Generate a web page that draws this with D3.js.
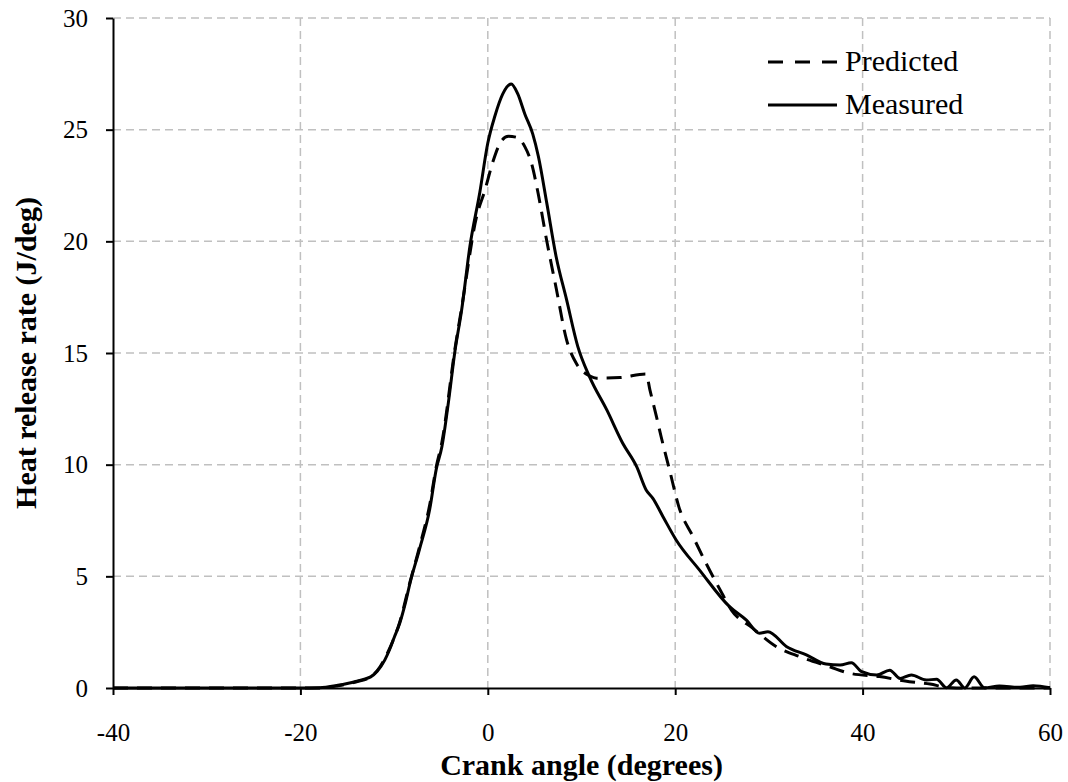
<!DOCTYPE html>
<html>
<head>
<meta charset="utf-8">
<script src="https://cdn.jsdelivr.net/npm/d3@7"></script>
<style>
  body { margin: 0; background: #fff; }
  svg text { font-family: "Liberation Serif", "Times New Roman", serif; fill: #000; }
</style>
</head>
<body>
<div id="chart"></div>
<script>
// crank angle (deg) / heat release rate (J/deg)
const measuredAngle = [-40, -30, -20, -18, -16, -15, -14, -13, -12.5, -11.8, -11, -10.5, -10, -9.4, -8.8, -8.3,
  -7.3, -6.2, -5.5, -4.9, -4.2, -3.5, -2.8, -1.9, -0.85, 0, 0.75, 1.6, 2.5, 3.2, 3.95, 4.8, 5.4, 6.3, 7.3,
  8.4, 9.6, 10.9, 12.7, 14.4, 15.9, 16.9, 17.6, 18.7, 20.1, 22.6, 25.8, 27.6, 29.0, 29.9, 31.9, 34.0, 36.1,
  37.6, 38.8, 39.9, 41.5, 42.9, 44.0, 45.2, 46.8, 47.9, 48.95, 50.0, 50.9, 51.9, 53.0, 54.6, 56.8, 58.2, 60];
const measuredRate = [0, 0, 0, 0.01, 0.12, 0.2, 0.3, 0.42, 0.5, 0.75, 1.25, 1.7, 2.25, 2.9, 3.8, 4.7,
  6.2, 8.0, 9.8, 10.8, 12.8, 15.1, 16.9, 19.8, 22.2, 24.4, 25.6, 26.6, 27.05, 26.6, 25.7, 24.8, 23.8, 21.7, 19.3,
  17.4, 15.3, 13.9, 12.45, 10.96, 9.9, 8.87, 8.5, 7.67, 6.63, 5.28, 3.64, 3.04, 2.45, 2.52, 1.85, 1.48, 1.07,
  1.03, 1.13, 0.73, 0.58, 0.8, 0.43, 0.58, 0.36, 0.39, 0.01, 0.36, 0, 0.5, 0.01, 0.09, 0.03, 0.1, 0.01];

const predictedAngle = [-40, -30, -18, -16, -14, -12.5, -11.5, -10.5, -9.4, -8.3, -7.3, -6.2, -5.5, -4.9,
  -3.5, -2.8, -1.2, -0.3, 0.57, 1.46, 2.2, 3.06, 3.95, 4.66, 5.37, 6.3, 7.3, 8.4, 9.5, 10.9, 11.6, 14.1,
  16.9, 17.3, 18.0, 18.5, 19.4, 20.4, 21.9, 23.3, 24.8, 26.0, 28.3, 30.8, 33.3, 36.5, 38.6, 41.8, 45.0,
  47.2, 49, 50, 55, 60];
const predictedRate = [0, 0, 0, 0.1, 0.28, 0.5, 0.95, 1.75, 2.95, 4.75, 6.3, 8.2, 9.9, 11,
  15.2, 17, 21.1, 22.3, 23.6, 24.5, 24.7, 24.66, 24.24, 23.5, 22.15, 20.0, 17.9, 15.6, 14.5, 13.97, 13.87, 13.9,
  14.06, 13.35, 12.15, 11.25, 9.76, 8.1, 6.78, 5.58, 4.39, 3.49, 2.67, 1.85, 1.4, 0.95, 0.66, 0.51, 0.28,
  0.18, 0.02, 0, 0, 0];

const xTicks = [-40, -20, 0, 20, 40, 60];
const yTicks = [0, 5, 10, 15, 20, 25, 30];

const W = 1068, H = 782;
const margin = { top: 18, right: 18, bottom: 94, left: 113 };
const width = W - margin.left - margin.right;
const height = H - margin.top - margin.bottom;

const svg = d3.select("#chart").append("svg")
  .attr("width", W).attr("height", H);
const g = svg.append("g").attr("transform", `translate(${margin.left},${margin.top})`);

const x = d3.scaleLinear().domain([-40, 60]).range([0, width]);
const y = d3.scaleLinear().domain([0, 30]).range([height, 0]);

// grid
g.append("g").selectAll("line")
  .data(yTicks.filter(d => d > 0))
  .enter().append("line")
  .attr("x1", 0).attr("x2", width)
  .attr("y1", d => y(d)).attr("y2", d => y(d))
  .attr("stroke", "#c0c0c0").attr("stroke-width", 1.5).attr("stroke-dasharray", "8,5");
g.append("g").selectAll("line")
  .data(xTicks.filter(d => d > -40))
  .enter().append("line")
  .attr("y1", 0).attr("y2", height)
  .attr("x1", d => x(d)).attr("x2", d => x(d))
  .attr("stroke", "#c0c0c0").attr("stroke-width", 1.5).attr("stroke-dasharray", "8,5");

// axes (plain hyphen for negatives, like the original)
const xAxis = g.append("g").attr("transform", `translate(0,${height})`)
  .call(d3.axisBottom(x).tickValues(xTicks).tickFormat(d => String(d))
    .tickSize(7).tickSizeOuter(0).tickPadding(28));
const yAxis = g.append("g")
  .call(d3.axisLeft(y).tickValues(yTicks).tickFormat(d => String(d))
    .tickSize(7).tickSizeOuter(0).tickPadding(18));
[xAxis, yAxis].forEach(a => {
  a.attr("font-family", "Liberation Serif");
  a.select(".domain").attr("stroke", "#000").attr("stroke-width", 2);
  a.selectAll(".tick line").attr("stroke", "#000").attr("stroke-width", 2);
  a.selectAll(".tick text").attr("font-size", 25);
});

// curves
const line = d3.line()
  .x(d => x(d[0])).y(d => y(d[1]))
  .curve(d3.curveMonotoneX);

g.append("path")
  .datum(predictedAngle.map((a, i) => [a, predictedRate[i]]))
  .attr("d", line)
  .attr("fill", "none").attr("stroke", "#000").attr("stroke-width", 3)
  .attr("stroke-dasharray", "15,9");

g.append("path")
  .datum(measuredAngle.map((a, i) => [a, measuredRate[i]]))
  .attr("d", line)
  .attr("fill", "none").attr("stroke", "#000").attr("stroke-width", 3);

// axis titles
svg.append("text")
  .attr("x", margin.left + width / 2).attr("y", 775)
  .attr("text-anchor", "middle")
  .attr("font-size", 30).attr("font-weight", "bold")
  .text("Crank angle (degrees)");

svg.append("text")
  .attr("transform", `translate(36,${margin.top + height / 2}) rotate(-90)`)
  .attr("text-anchor", "middle")
  .attr("font-size", 30).attr("font-weight", "bold")
  .text("Heat release rate (J/deg)");

// legend
const legendItems = [
  { name: "Predicted", dash: "15,12", y: 62 },
  { name: "Measured", dash: null, y: 105 }
];
const legend = svg.append("g");
legendItems.forEach(it => {
  legend.append("line")
    .attr("x1", 768).attr("x2", 837).attr("y1", it.y).attr("y2", it.y)
    .attr("stroke", "#000").attr("stroke-width", 3)
    .attr("stroke-dasharray", it.dash);
  legend.append("text")
    .attr("x", 845).attr("y", it.y + 9)
    .attr("font-size", 30)
    .text(it.name);
});
</script>
</body>
</html>
